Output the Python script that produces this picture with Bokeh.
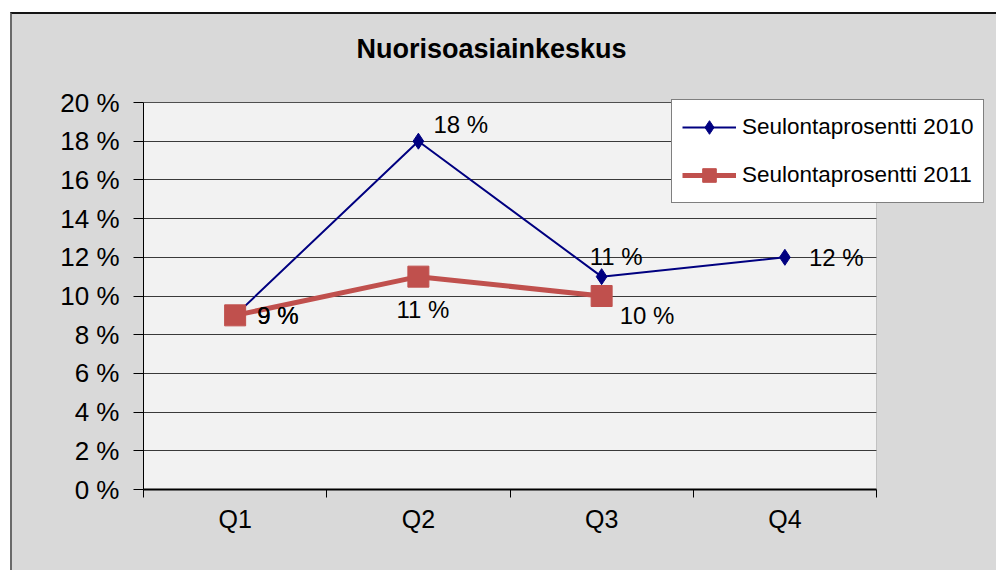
import numpy as np
from bokeh.plotting import figure
from bokeh.models import (Range1d, FixedTicker, Legend, LegendItem, ColumnDataSource,
                          BoxAnnotation, Label)
from bokeh.core.properties import value
from bokeh.embed import file_html
from bokeh.resources import INLINE

# ---- data ----
quarters = ["Q1", "Q2", "Q3", "Q4"]
rate_2010 = [9, 18, 11, 12]
rate_2011 = [9, 11, 10, None]
y_ticks = list(range(0, 21, 2))
series_names = ["Seulontaprosentti 2010", "Seulontaprosentti 2011"]
title_text = "Nuorisoasiainkeskus"

# label offsets (px) for data labels: (dx to left edge, dy to centre, down positive)
off_2010_dx = [22, 15, -12, 24]
off_2010_dy = [0, -17, -20, 0]
off_2011_dx = [22, -22, 18, 0]
off_2011_dy = [0, 33, 19, 0]

FONT = "Liberation Sans"
BLUE = "#000080"
RED = "#C0504D"
BG = "#d9d9d9"
PLOT_BG = "#f2f2f2"

W, H = 986, 558
MB_L, MB_R = 131, 2
PLOT_TOP = 88                     # canvas y of the plot area's top edge
PLOT_W, PLOT_H = 733, 387         # pixel size of the plot area
MB_B = H - PLOT_TOP - PLOT_H
frame_w = W - MB_L - MB_R
frame_h = H - MB_B
n = len(quarters)
y_max = y_ticks[-1]
x_end = n * frame_w / PLOT_W
y_end = y_max * frame_h / PLOT_H

x = [i + 0.5 for i in range(n)]
r2010 = [np.nan if v is None else float(v) for v in rate_2010]
r2011 = [np.nan if v is None else float(v) for v in rate_2011]

p = figure(
    width=W, height=H, title=None,
    x_range=Range1d(0, x_end), y_range=Range1d(0, y_end),
    output_backend="svg", toolbar_location=None,
    min_border_left=MB_L, min_border_right=MB_R, min_border_top=0,
    min_border_bottom=MB_B,
    background_fill_color=BG, border_fill_color=BG,
    outline_line_color=None,
    styles={"margin-left": "10px", "margin-top": "12px", "background-color": BG,
            "border-top": "2px solid #141414", "border-left": "2px solid #6a6a6a"},
)

# axes
p.xaxis.ticker = FixedTicker(ticks=x, minor_ticks=list(range(n + 1)))
p.xaxis.major_label_overrides = {xi: q for xi, q in zip(x, quarters)}
p.xaxis.bounds = (0, n)
p.xaxis.major_tick_out = 0
p.xaxis.major_tick_in = 0
p.xaxis.minor_tick_out = 8
p.xaxis.minor_tick_in = 0
p.xaxis.minor_tick_line_color = "black"
p.xaxis.axis_line_color = "black"
p.xaxis.axis_line_width = 2
p.xaxis.major_label_text_font = FONT
p.xaxis.major_label_text_font_size = "25px"
p.xaxis.major_label_text_color = "black"
p.xaxis.major_label_standoff = 7

p.yaxis.ticker = FixedTicker(ticks=y_ticks)
p.yaxis.major_label_overrides = {v: f"{v} %" for v in y_ticks}
p.yaxis.bounds = (0, y_max)
p.yaxis.major_tick_out = 10
p.yaxis.major_tick_in = 0
p.yaxis.minor_tick_out = 0
p.yaxis.major_tick_line_color = "black"
p.yaxis.axis_line_color = "black"
p.yaxis.major_label_text_font = FONT
p.yaxis.major_label_text_font_size = "26px"
p.yaxis.major_label_text_color = "black"
p.yaxis.major_label_standoff = 14

p.xgrid.grid_line_color = None
p.ygrid.grid_line_color = "#3a3a3a"
p.ygrid.grid_line_width = 1

# plot-area fill (drawn before the grid), grey cover right of it, and its border
plot_bg = BoxAnnotation(left=0, right=n, bottom=0, top=y_max, fill_color=PLOT_BG,
                        fill_alpha=1, line_color=None, level="underlay")
p.center = [plot_bg] + list(p.center)
p.add_layout(BoxAnnotation(left=n, fill_color=BG, fill_alpha=1, line_color=None, level="underlay"))
p.add_layout(BoxAnnotation(left=0, right=n, bottom=0, top=y_max, fill_alpha=0,
                           line_color="#808080", line_width=1, level="underlay"))

# series
l1 = p.line(x, r2010, line_color=BLUE, line_width=2)
s1 = p.scatter(x, r2010, marker="diamond", size=16, fill_color=BLUE, line_color=BLUE)
l2 = p.line(x, r2011, line_color=RED, line_width=5)
s2 = p.scatter(x, r2011, marker="square", size=21, fill_color=RED, line_color=RED)

# data labels
def labels(vals, dx, dy):
    xs, ys, ts, dxs, dys = [], [], [], [], []
    for xi, v, a, b in zip(x, vals, dx, dy):
        if v is None:
            continue
        xs.append(xi); ys.append(v); ts.append(f"{v} %"); dxs.append(a); dys.append(b)
    return ColumnDataSource(dict(x=xs, y=ys, text=ts, dx=dxs, dy=dys))

for vals, dx, dy in [(rate_2010, off_2010_dx, off_2010_dy), (rate_2011, off_2011_dx, off_2011_dy)]:
    src = labels(vals, dx, dy)
    p.text(x="x", y="y", text="text", x_offset="dx", y_offset="dy", source=src,
           text_font=value(FONT), text_font_size="24px", text_color="black",
           text_align="left", text_baseline="middle")

# chart title
p.add_layout(Label(x=477, y=32, x_units="canvas", y_units="canvas", text=title_text,
                   text_align="center", text_baseline="middle",
                   text_font=FONT, text_font_size="27px", text_font_style="bold",
                   text_color="black"))

legend = Legend(
    items=[LegendItem(label=series_names[0], renderers=[l1, s1]),
           LegendItem(label=series_names[1], renderers=[l2, s2])],
    location=(528, 286),
    orientation="vertical",
    border_line_color="black", border_line_width=1,
    background_fill_color="white", background_fill_alpha=1,
    label_text_font=FONT, label_text_font_size="22.5px", label_text_color="black",
    glyph_width=54, glyph_height=34, label_standoff=6,
    padding=10, spacing=14, margin=0,
)
p.add_layout(legend, "center")

open("out.html", "w").write(file_html(p, INLINE))
